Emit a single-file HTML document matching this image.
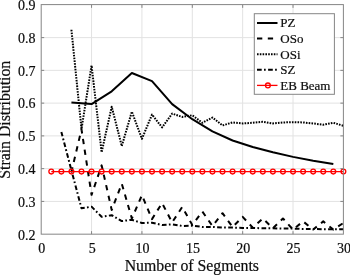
<!DOCTYPE html><html><head><meta charset="utf-8"><style>
html,body{margin:0;padding:0;background:#fff;}body{width:350px;height:275px;overflow:hidden;}
svg{display:block;} text{font-family:"Liberation Serif","Times New Roman",serif;fill:#0d0d0d;stroke:#0d0d0d;stroke-width:0.2px;}
</style></head><body>
<svg width="350" height="275" viewBox="0 0 350 275">
<rect x="0" y="0" width="350" height="275" fill="#fff"/>
<g stroke="#e2e2e2" stroke-width="1">
<line x1="91.56" y1="4.85" x2="91.56" y2="234.17"/>
<line x1="141.93" y1="4.85" x2="141.93" y2="234.17"/>
<line x1="192.30" y1="4.85" x2="192.30" y2="234.17"/>
<line x1="242.66" y1="4.85" x2="242.66" y2="234.17"/>
<line x1="293.03" y1="4.85" x2="293.03" y2="234.17"/>
<line x1="41.20" y1="201.41" x2="343.39" y2="201.41"/>
<line x1="41.20" y1="168.65" x2="343.39" y2="168.65"/>
<line x1="41.20" y1="135.89" x2="343.39" y2="135.89"/>
<line x1="41.20" y1="103.13" x2="343.39" y2="103.13"/>
<line x1="41.20" y1="70.37" x2="343.39" y2="70.37"/>
<line x1="41.20" y1="37.61" x2="343.39" y2="37.61"/>
</g>
<g fill="none" stroke-linejoin="round">
<polyline points="71.42,102.47 91.56,104.11 111.71,91.34 131.86,72.99 152.00,81.18 172.15,104.11 192.30,119.18 212.44,131.30 232.59,140.48 252.73,147.03 272.88,152.27 293.03,156.86 313.17,160.79 333.32,164.06" stroke="#000" stroke-width="2.0"/>
<polyline points="71.42,29.75 81.49,129.01 91.56,65.46 101.64,152.27 111.71,106.73 121.78,146.05 131.86,111.65 141.93,138.84 152.00,114.60 162.08,127.37 172.15,113.61 182.22,116.89 192.30,115.25 202.37,122.79 212.44,117.54 222.51,125.41 232.59,122.46 242.66,123.44 252.73,122.79 262.81,121.80 272.88,123.44 282.95,122.46 293.03,122.13 303.10,122.46 313.17,123.44 323.24,124.75 333.32,122.79 343.39,125.73" stroke="#000" stroke-width="2.0" stroke-dasharray="1.6 1.2"/>
<polyline points="71.42,171.93 81.49,129.34 91.56,194.86 101.64,165.37 111.71,209.93 121.78,183.72 131.86,218.45 141.93,195.19 152.00,219.10 162.08,203.05 172.15,222.38 182.22,206.98 192.30,225.00 202.37,211.57 212.44,225.98 222.51,213.20 232.59,226.96 242.66,216.81 252.73,227.62 262.81,218.45 272.88,228.27 282.95,218.45 293.03,229.58 303.10,221.39 313.17,229.58 323.24,221.39 333.32,229.58 343.39,223.03" stroke="#000" stroke-width="2.0" stroke-dasharray="5.3 5.5" stroke-dashoffset="0.5"/>
<polyline points="61.35,131.96 71.42,170.29 81.49,208.29 91.56,206.65 101.64,216.81 111.71,215.17 121.78,221.07 131.86,219.76 141.93,223.03 152.00,222.70 162.08,225.00 172.15,224.34 182.22,225.98 192.30,225.65 202.37,226.96 212.44,226.96 222.51,227.62 232.59,227.62 242.66,227.95 252.73,227.95 262.81,228.27 272.88,228.27 282.95,228.60 293.03,228.60 303.10,228.93 313.17,228.93 323.24,229.26 333.32,229.26 343.39,229.26" stroke="#000" stroke-width="2.0" stroke-dasharray="4.7 2.3 1.7 2.4" stroke-dashoffset="0.2"/>
<polyline points="51.27,171.60 61.35,171.60 71.42,171.60 81.49,171.60 91.56,171.60 101.64,171.60 111.71,171.60 121.78,171.60 131.86,171.60 141.93,171.60 152.00,171.60 162.08,171.60 172.15,171.60 182.22,171.60 192.30,171.60 202.37,171.60 212.44,171.60 222.51,171.60 232.59,171.60 242.66,171.60 252.73,171.60 262.81,171.60 272.88,171.60 282.95,171.60 293.03,171.60 303.10,171.60 313.17,171.60 323.24,171.60 333.32,171.60 343.39,171.60" stroke="#f00" stroke-width="1.3"/>
<circle cx="51.27" cy="171.60" r="2.4" stroke="#f00" stroke-width="1.3"/>
<circle cx="61.35" cy="171.60" r="2.4" stroke="#f00" stroke-width="1.3"/>
<circle cx="71.42" cy="171.60" r="2.4" stroke="#f00" stroke-width="1.3"/>
<circle cx="81.49" cy="171.60" r="2.4" stroke="#f00" stroke-width="1.3"/>
<circle cx="91.56" cy="171.60" r="2.4" stroke="#f00" stroke-width="1.3"/>
<circle cx="101.64" cy="171.60" r="2.4" stroke="#f00" stroke-width="1.3"/>
<circle cx="111.71" cy="171.60" r="2.4" stroke="#f00" stroke-width="1.3"/>
<circle cx="121.78" cy="171.60" r="2.4" stroke="#f00" stroke-width="1.3"/>
<circle cx="131.86" cy="171.60" r="2.4" stroke="#f00" stroke-width="1.3"/>
<circle cx="141.93" cy="171.60" r="2.4" stroke="#f00" stroke-width="1.3"/>
<circle cx="152.00" cy="171.60" r="2.4" stroke="#f00" stroke-width="1.3"/>
<circle cx="162.08" cy="171.60" r="2.4" stroke="#f00" stroke-width="1.3"/>
<circle cx="172.15" cy="171.60" r="2.4" stroke="#f00" stroke-width="1.3"/>
<circle cx="182.22" cy="171.60" r="2.4" stroke="#f00" stroke-width="1.3"/>
<circle cx="192.30" cy="171.60" r="2.4" stroke="#f00" stroke-width="1.3"/>
<circle cx="202.37" cy="171.60" r="2.4" stroke="#f00" stroke-width="1.3"/>
<circle cx="212.44" cy="171.60" r="2.4" stroke="#f00" stroke-width="1.3"/>
<circle cx="222.51" cy="171.60" r="2.4" stroke="#f00" stroke-width="1.3"/>
<circle cx="232.59" cy="171.60" r="2.4" stroke="#f00" stroke-width="1.3"/>
<circle cx="242.66" cy="171.60" r="2.4" stroke="#f00" stroke-width="1.3"/>
<circle cx="252.73" cy="171.60" r="2.4" stroke="#f00" stroke-width="1.3"/>
<circle cx="262.81" cy="171.60" r="2.4" stroke="#f00" stroke-width="1.3"/>
<circle cx="272.88" cy="171.60" r="2.4" stroke="#f00" stroke-width="1.3"/>
<circle cx="282.95" cy="171.60" r="2.4" stroke="#f00" stroke-width="1.3"/>
<circle cx="293.03" cy="171.60" r="2.4" stroke="#f00" stroke-width="1.3"/>
<circle cx="303.10" cy="171.60" r="2.4" stroke="#f00" stroke-width="1.3"/>
<circle cx="313.17" cy="171.60" r="2.4" stroke="#f00" stroke-width="1.3"/>
<circle cx="323.24" cy="171.60" r="2.4" stroke="#f00" stroke-width="1.3"/>
<circle cx="333.32" cy="171.60" r="2.4" stroke="#f00" stroke-width="1.3"/>
<circle cx="343.39" cy="171.60" r="2.4" stroke="#f00" stroke-width="1.3"/>
</g>
<g stroke="#858585" stroke-width="1.0" fill="none">
<rect x="41.20" y="4.60" width="302.19" height="229.57"/>
<line x1="91.56" y1="234.17" x2="91.56" y2="231.17"/><line x1="91.56" y1="4.85" x2="91.56" y2="7.85"/>
<line x1="141.93" y1="234.17" x2="141.93" y2="231.17"/><line x1="141.93" y1="4.85" x2="141.93" y2="7.85"/>
<line x1="192.30" y1="234.17" x2="192.30" y2="231.17"/><line x1="192.30" y1="4.85" x2="192.30" y2="7.85"/>
<line x1="242.66" y1="234.17" x2="242.66" y2="231.17"/><line x1="242.66" y1="4.85" x2="242.66" y2="7.85"/>
<line x1="293.03" y1="234.17" x2="293.03" y2="231.17"/><line x1="293.03" y1="4.85" x2="293.03" y2="7.85"/>
<line x1="41.20" y1="201.41" x2="44.20" y2="201.41"/><line x1="343.39" y1="201.41" x2="340.39" y2="201.41"/>
<line x1="41.20" y1="168.65" x2="44.20" y2="168.65"/><line x1="343.39" y1="168.65" x2="340.39" y2="168.65"/>
<line x1="41.20" y1="135.89" x2="44.20" y2="135.89"/><line x1="343.39" y1="135.89" x2="340.39" y2="135.89"/>
<line x1="41.20" y1="103.13" x2="44.20" y2="103.13"/><line x1="343.39" y1="103.13" x2="340.39" y2="103.13"/>
<line x1="41.20" y1="70.37" x2="44.20" y2="70.37"/><line x1="343.39" y1="70.37" x2="340.39" y2="70.37"/>
<line x1="41.20" y1="37.61" x2="44.20" y2="37.61"/><line x1="343.39" y1="37.61" x2="340.39" y2="37.61"/>
</g>
<g font-size="14" text-anchor="end">
<text x="35.5" y="239.5">0.2</text>
<text x="35.5" y="206.7">0.3</text>
<text x="35.5" y="174.0">0.4</text>
<text x="35.5" y="141.2">0.5</text>
<text x="35.5" y="108.4">0.6</text>
<text x="35.5" y="75.7">0.7</text>
<text x="35.5" y="42.9">0.8</text>
<text x="35.5" y="10.1">0.9</text>
</g>
<g font-size="14" text-anchor="middle">
<text x="41.8" y="253">0</text>
<text x="92.2" y="253">5</text>
<text x="142.5" y="253">10</text>
<text x="192.9" y="253">15</text>
<text x="243.3" y="253">20</text>
<text x="293.6" y="253">25</text>
<text x="344.0" y="253">30</text>
</g>
<text x="191.85" y="271.2" font-size="15.8" text-anchor="middle">Number of Segments</text>
<text transform="translate(10.4,119.75) rotate(-90)" font-size="15.8" text-anchor="middle">Strain Distribution</text>
<rect x="254.3" y="13.7" width="80.10" height="80.60" fill="#fff" stroke="#858585" stroke-width="1.0"/>
<line x1="257" y1="23.0" x2="277.5" y2="23.0" stroke="#000" stroke-width="2.0"/>
<text x="280.3" y="27.4" font-size="13">PZ</text>
<line x1="257" y1="38.6" x2="277.5" y2="38.6" stroke="#000" stroke-width="2.0" stroke-dasharray="5.3 5.5"/>
<text x="280.3" y="43.0" font-size="13">OSo</text>
<line x1="257" y1="54.2" x2="277.5" y2="54.2" stroke="#000" stroke-width="2.0" stroke-dasharray="1.6 1.2"/>
<text x="280.3" y="58.6" font-size="13">OSi</text>
<line x1="257" y1="69.8" x2="277.5" y2="69.8" stroke="#000" stroke-width="2.0" stroke-dasharray="4.7 2.3 1.7 2.4"/>
<text x="280.3" y="74.2" font-size="13">SZ</text>
<line x1="257" y1="85.4" x2="277.5" y2="85.4" stroke="#f00" stroke-width="1.3"/>
<circle cx="267.9" cy="85.4" r="2.4" fill="none" stroke="#f00" stroke-width="1.3"/>
<text x="280.3" y="89.8" font-size="13">EB Beam</text>
</svg></body></html>
